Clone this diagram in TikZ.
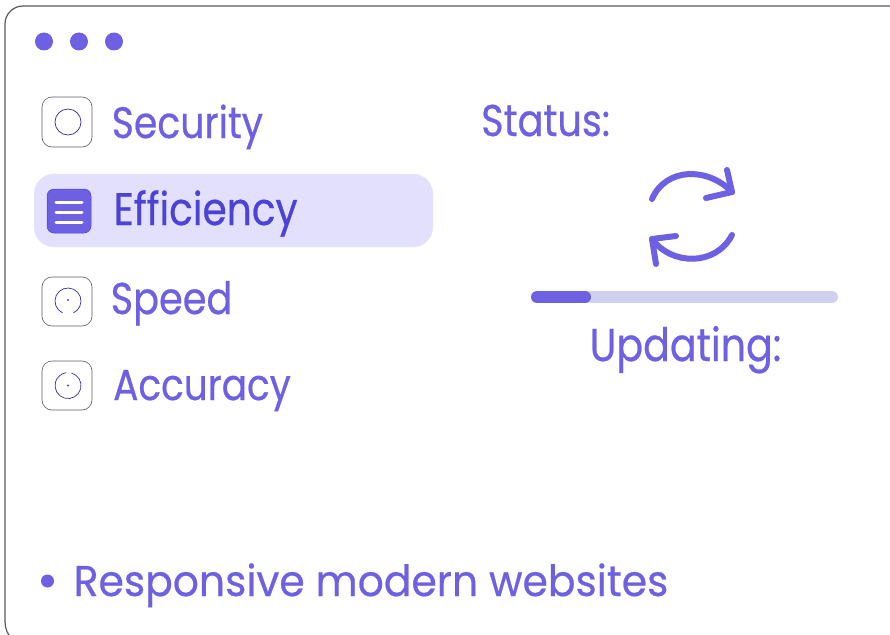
\documentclass[tikz,border=0pt]{standalone}
\usepackage{fontspec}
\setmainfont[FakeStretch=.86,FakeBold=.5]{Poppins}
\newfontfamily\footerfont[FakeStretch=.95,FakeBold=.5]{Poppins}
\usepackage{tikz}
\definecolor{V}{RGB}{110,96,226}
\definecolor{D}{RGB}{76,66,214}
\definecolor{P}{RGB}{226,224,252}
\definecolor{B}{RGB}{208,208,240}
\definecolor{K}{RGB}{90,90,105}
\tikzset{x=1pt,y=-1pt,
  label/.style={text=V,anchor=base west,inner sep=0pt,font=\fontsize{44}{44}\selectfont},
  iconbox/.style={draw=K,line width=.6pt,rounded corners=10pt,fill=white},
  dial/.style={draw=D!70!black,line width=.7pt},
  arc/.style={draw=V,line width=6pt,line cap=round,line join=round}
}
\newcommand{\windowdot}[1]{\fill[V] (#1,41.5) circle (9);}
\begin{document}
\begin{tikzpicture}
\useasboundingbox (0,0) rectangle (890,634);
\fill[white] (0,0) rectangle (890,634);
\draw[K,line width=1.2pt,rounded corners=18pt] (5,622)--(5,6)--(900,6);
\draw[K,line width=1.2pt] (5,622) arc (180:130:24);
\foreach \x in {44,79,114}{\windowdot{\x}}
% rows
\filldraw[fill=P,draw=P!70!white,rounded corners=20pt] (34,174) rectangle (433,247);
\draw[iconbox] (42,97) rectangle (92,147);
\draw[dial] (68,122) circle (13);
\node[label] (security) at (111.5,138) {Security};
\filldraw[fill=V,draw=D,line width=.5pt,rounded corners=7pt] (47,189) rectangle (91,233);
\foreach \y in {202,212,222}{\draw[white,line width=3pt,line cap=round] (56,\y)--(82,\y);}
\node[label,text=D,font=\fontsize{45.5}{45.5}\selectfont] (efficiency) at (113.5,225) {Efficiency};
\draw[iconbox] (42,277) rectangle (92,326);
\draw[dial] (62.5,312.8) arc (115:425:13);
\fill[D] (68,300) circle (1.1);
\node[label,font=\fontsize{44.5}{44.5}\selectfont] (speed) at (110.5,314) {Speed};
\draw[iconbox] (42,361) rectangle (92,410);
\draw[dial] (71.4,373) arc (-75:262:13);
\fill[D] (68,385.5) circle (1.1);
\node[label,font=\fontsize{43.5}{43.5}\selectfont] (accuracy) at (113,400) {Accuracy};
% status
\node[label,font=\fontsize{44.5}{44.5}\selectfont] (status) at (481,136) {Status:};
\draw[arc] (652,199) .. controls (666,167) and (708,167) .. (732,192);
\draw[arc] (727,170)--(732,192)--(706,198);
\draw[arc] (732,235) .. controls (716,266) and (672,266) .. (652,239);
\draw[arc] (676,236)--(652,239)--(656,264);
\draw[B,line width=12pt,line cap=round] (537,297)--(832,297);
\draw[V,line width=12pt,line cap=round] (537,297)--(585,297);
\node[label,font=\fontsize{46}{46}\selectfont] (updating) at (589.5,361) {Updating:};
% footer
\fill[V] (47.5,581) circle (6.5);
\node[label,font=\footerfont\fontsize{43}{43}\selectfont] (footer) at (73.5,596) {Responsive modern websites};
\end{tikzpicture}
\end{document}
